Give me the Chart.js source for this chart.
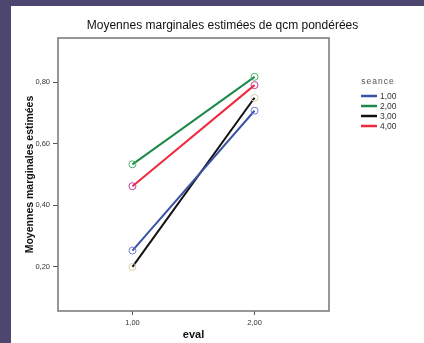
<!DOCTYPE html>
<html lang="fr">
<head>
  <meta charset="UTF-8" />
  <title>Moyennes marginales estimées</title>
  <script src="https://cdn.jsdelivr.net/npm/chart.js"></script>
  <style>
    html, body { margin: 0; padding: 0; background: #4d4770; overflow: hidden; width: 424px; height: 343px; }
    #chart { position: absolute; left: 11px; top: 6px; background: #fff; }
  </style>
</head>
<body>
  <canvas id="chart" width="413" height="337"></canvas>

  <script>
    // === Data ===
    const evalLevels = [1, 2];
    const evalTicks = [1, 2];
    const yTicks = [0.2, 0.4, 0.6, 0.8];
    const seanceLabels = ["1,00", "2,00", "3,00", "4,00"];
    const seance1 = [0.253, 0.707];
    const seance2 = [0.533, 0.817];
    const seance3 = [0.200, 0.749];
    const seance4 = [0.462, 0.790];

    const seriesValues = [seance1, seance2, seance3, seance4];
    const lineColors = ["#3a53a6", "#1e8a4a", "#111111", "#ee2a3c"];
    const markerColors = ["#6a7ed0", "#4cae6c", "#d6d0a4", "#c43c98"];

    const fmt = v => v.toFixed(2).replace(".", ",");

    // frame around the plot area
    const framePlugin = {
      id: "frame",
      beforeDatasetsDraw(chart) {
        const a = chart.chartArea, ctx = chart.ctx;
        ctx.save();
        ctx.strokeStyle = "#767676";
        ctx.lineWidth = 1.5;
        ctx.strokeRect(a.left, a.top, a.right - a.left, a.bottom - a.top);
        ctx.restore();
      }
    };

    // SPSS style legend on the right
    const sideLegend = {
      id: "sideLegend",
      afterDraw(chart) {
        const ctx = chart.ctx;
        const x0 = chart.chartArea.right + 32;
        ctx.save();
        ctx.fillStyle = "#555";
        ctx.font = "8.5px 'Liberation Sans', Arial, sans-serif";
        ctx.letterSpacing = "1px";
        ctx.textAlign = "center";
        ctx.textBaseline = "middle";
        ctx.fillText("seance", x0 + 17, 76);
        ctx.letterSpacing = "0px";
        ctx.textAlign = "left";
        chart.data.datasets.forEach((ds, i) => {
          const y = 90 + i * 10;
          ctx.strokeStyle = ds.borderColor;
          ctx.lineWidth = 2.5;
          ctx.beginPath();
          ctx.moveTo(x0, y);
          ctx.lineTo(x0 + 16, y);
          ctx.stroke();
          ctx.fillStyle = "#333";
          ctx.fillText(ds.label, x0 + 19, y + 0.5);
        });
        ctx.restore();
      }
    };

    const datasets = seriesValues.map((vals, i) => ({
      label: seanceLabels[i],
      data: evalLevels.map((x, j) => ({ x: x, y: vals[j] })),
      borderColor: lineColors[i],
      borderWidth: 2,
      pointStyle: "circle",
      pointRadius: 3.5,
      pointBorderWidth: 1,
      pointBorderColor: markerColors[i],
      pointBackgroundColor: "rgba(0,0,0,0)",
      tension: 0
    }));

    const tickFont = { family: "'Liberation Sans', Arial, sans-serif", size: 7.5 };

    new Chart(document.getElementById("chart"), {
      type: "line",
      data: { datasets: datasets },
      plugins: [framePlugin, sideLegend],
      options: {
        responsive: false,
        animation: false,
        layout: { padding: { left: 10, right: 0, top: 0, bottom: 0 } },
        plugins: {
          legend: { display: false },
          tooltip: { enabled: false },
          title: {
            display: true,
            text: "Moyennes marginales estimées de qcm pondérées",
            color: "#111",
            font: { family: "'Liberation Sans', Arial, sans-serif", size: 12, weight: "normal" },
            padding: { top: 12.8, bottom: 4.8 }
          }
        },
        scales: {
          x: {
            type: "linear",
            min: 0.39,
            max: 2.61,
            afterBuildTicks: s => { s.ticks = evalTicks.map(v => ({ value: v })); },
            afterFit: s => { s.height = 32; },
            ticks: { color: "#333", font: tickFont, padding: 3, callback: v => fmt(v) },
            grid: { drawOnChartArea: false, drawTicks: true, tickLength: 4, tickColor: "#555" },
            border: { display: false },
            title: {
              display: true,
              text: "eval",
              color: "#111",
              font: { family: "'Liberation Sans', Arial, sans-serif", size: 11, weight: "bold" },
              padding: { top: 0, bottom: 1 }
            }
          },
          y: {
            min: 0.057,
            max: 0.943,
            afterBuildTicks: s => { s.ticks = yTicks.map(v => ({ value: v })); },
            afterFit: s => { s.width = 37; },
            ticks: { color: "#333", font: tickFont, padding: 3, callback: v => fmt(v) },
            grid: { drawOnChartArea: false, drawTicks: true, tickLength: 5, tickColor: "#555" },
            border: { display: false },
            title: {
              display: true,
              text: "Moyennes marginales estimées",
              color: "#111",
              font: { family: "'Liberation Sans', Arial, sans-serif", size: 10.5, weight: "bold" },
              padding: { top: 2.7, bottom: 0 }
            }
          },
          // empty right-hand strip that holds the legend
          legendSpace: {
            type: "linear",
            position: "right",
            display: true,
            afterFit: s => { s.width = 95; },
            ticks: { display: false },
            grid: { display: false },
            border: { display: false }
          }
        }
      }
    });
  </script>
</body>
</html>
